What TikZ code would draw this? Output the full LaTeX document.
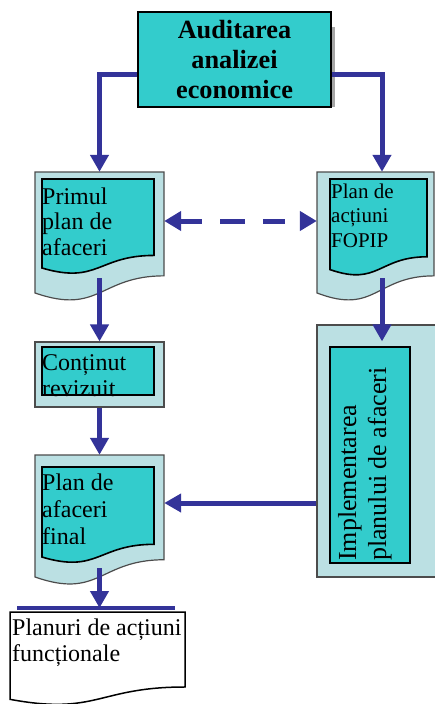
\documentclass[tikz,border=0pt]{standalone}
\usepackage{fontspec}
\setmainfont{Liberation Serif}
\usetikzlibrary{arrows.meta}

\definecolor{docteal}{HTML}{33CCCC}
\definecolor{docpale}{HTML}{BBE0E3}
\definecolor{flowblue}{HTML}{333399}

% document symbol with a wavy bottom edge: style, x, y, width, height
\newcommand\docshape[5]{%
  \draw[#1] (#2,#3) -- (#2+#4,#3) -- (#2+#4,#3+0.802*#5)
    .. controls (#2+0.5*#4,#3+0.802*#5) and (#2+0.5*#4,#3+1.108*#5) .. (#2,#3+0.934*#5) -- cycle;}

\tikzset{
  outer/.style={draw=black!70, line width=1.2pt, fill=docpale},
  inner/.style={draw=black, line width=1.6pt, fill=docteal},
  plain/.style={draw=black, line width=1.5pt, fill=white},
  anchorbox/.style={inner sep=0pt, draw=none},
  txt/.style={inner sep=0pt, align=left, font=\fontsize{24}{25.5}\selectfont},
  arr/.style={draw=flowblue, line width=5pt, -{Triangle[width=18pt,length=17pt]}},
  darr/.style={draw=flowblue, line width=5pt, dash pattern=on 22pt off 18pt on 25pt off 18pt,
    {Triangle[width=19pt,length=17pt]}-{Triangle[width=19pt,length=17pt]}},
  bar/.style={draw=flowblue, line width=4pt},
}

\begin{document}
\begin{tikzpicture}[x=1pt,y=-1pt]
\useasboundingbox (0,0) rectangle (435,704);

% top box with its side shadow
\fill[black!35] (331,27) rectangle (334.5,107);
\node[draw=black, line width=1.5pt, fill=docteal, minimum width=193pt, minimum height=95pt,
  inner sep=0pt, align=center, font=\fontsize{26.3}{30}\selectfont\bfseries]
  (top) at (234.5,59.5) {Auditarea\\analizei\\economice};

% first business plan
\docshape{outer}{35}{172}{129}{129.5}
\docshape{inner}{42}{179}{112}{95.3}
\node[anchorbox, minimum width=129pt, minimum height=106pt] (d1) at (99.5,225) {};
\begin{scope}
  \clip (42,179) rectangle (154,255);
  \node[txt, anchor=base west] (t1) at (42,255) {Primul\\plan de\\afaceri};
\end{scope}

% FOPIP action plan
\docshape{outer}{317}{172}{117}{129.5}
\docshape{inner}{330}{179}{97}{97}
\node[anchorbox, minimum width=130pt, minimum height=106pt] (d2) at (382,225) {};
\begin{scope}
  \clip (330,179) rectangle (427,262);
  \node[txt, anchor=base west, font=\fontsize{21}{24.5}\selectfont] (t2) at (331,247) {Plan de\\acțiuni\\FOPIP};
\end{scope}

% revised content
\node[outer, inner sep=0pt, minimum width=129pt, minimum height=65pt] (b) at (99.5,374.5) {};
\draw[inner] (42,347) rectangle (154,395);
\begin{scope}
  \clip (42,347) rectangle (154,399);
  \node[txt, anchor=base west] (t3) at (42,396) {Conținut\\revizuit};
\end{scope}

% final business plan
\docshape{outer}{35}{455}{129}{130.6}
\docshape{inner}{42}{467}{112}{96.4}
\node[anchorbox, minimum width=129pt, minimum height=113pt] (d3) at (99.5,511.5) {};
\begin{scope}
  \clip (42,467) rectangle (154,543);
  \node[txt, anchor=base west, font=\fontsize{24}{27}\selectfont] (t4) at (42,544) {Plan de\\afaceri\\final};
\end{scope}

% implementation box
\node[outer, inner sep=0pt, minimum width=130pt, minimum height=252pt] (big) at (382,451) {};
\draw[inner] (330,347) rectangle (410,563);
\node[txt, rotate=90, anchor=north west, font=\fontsize{26}{30}\selectfont] (t5) at (338,561)
  {Implementarea\\planului de afaceri};

% functional action plans
\docshape{plain}{10}{612}{175}{93.5}
\node[anchorbox, minimum width=175pt, minimum height=75pt] (p) at (97.5,649.5) {};
\node[txt, anchor=base west, font=\fontsize{24}{26}\selectfont] (t6) at (12,661) {Planuri de acțiuni\\funcționale};

% connectors
\draw[arr] ([yshift=-14.5pt]top.west) -| (d1.north);
\draw[arr] ([yshift=-14.5pt]top.east) -| (d2.north);
\draw[darr] ([yshift=4pt]d1.east) -- ([yshift=4pt]d2.west);
\draw[arr] (d1.south) -- (b.north);
\draw[arr] (b.south) -- (d3.north);
\draw[arr, shorten >=-17pt] (d2.south) -- (big.north);
\coordinate (hs) at ([yshift=-52pt]big.west);
\draw[arr] (hs) -- (hs -| d3.east);
\coordinate (barL) at (17,608);
\coordinate (barR) at (175,608);
\draw[bar] (barL) -- (barR);
\draw[arr] (d3.south) -- (d3.south |- barL);
\end{tikzpicture}
\end{document}
